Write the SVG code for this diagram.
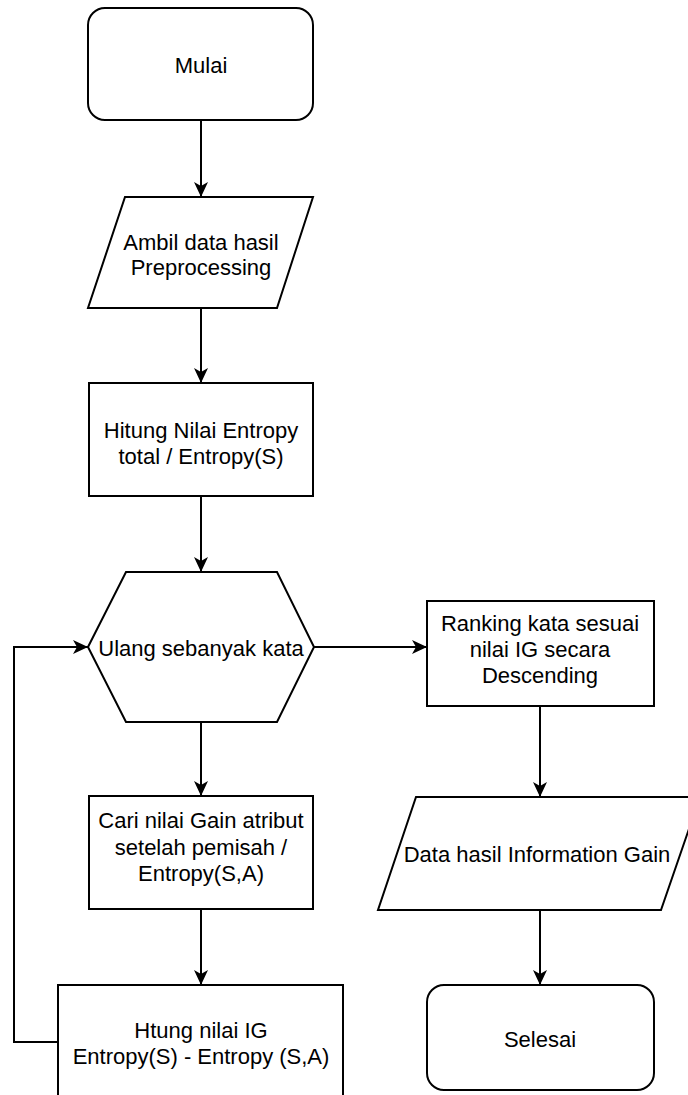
<svg xmlns="http://www.w3.org/2000/svg" width="688" height="1095" viewBox="0 0 688 1095">
<defs>
<marker id="ah" viewBox="0 0 15 14" refX="15" refY="7" markerWidth="15" markerHeight="14" markerUnits="userSpaceOnUse" orient="auto">
<path d="M0,0 L15,7 L0,14 L4,7 Z" fill="#000"/>
</marker>
<style>
.s{fill:#fff;stroke:#000;stroke-width:2}
.t{font-family:"Liberation Sans",Arial,sans-serif;font-size:22px;fill:#000;text-anchor:middle}
.c{fill:none;stroke:#000;stroke-width:2;marker-end:url(#ah)}
</style>
</defs>
<rect width="688" height="1095" fill="#fff"/>
<g id="connectors">
<path class="c" d="M201,120 L201,197"/>
<path class="c" d="M201,308 L201,383"/>
<path class="c" d="M201,496 L201,572"/>
<path class="c" d="M201,722 L201,796"/>
<path class="c" d="M201,909 L201,985"/>
<path class="c" d="M314,647 L427,647"/>
<path class="c" d="M540,706 L540,797"/>
<path class="c" d="M540,910 L540,985"/>
<path class="c" d="M58,1042 L14,1042 L14,647 L88,647"/>
</g>
<g id="mulai">
<rect class="s" x="88" y="8" width="225" height="112" rx="17"/>
<text class="t" x="201" y="73">Mulai</text>
</g>
<g id="ambil">
<polygon class="s" points="125,197 313,197 277,308 88,308"/>
<text class="t" x="201" y="250">Ambil data hasil</text>
<text class="t" x="201" y="275">Preprocessing</text>
</g>
<g id="hitung">
<rect class="s" x="89" y="383" width="224" height="113"/>
<text class="t" x="201" y="438">Hitung Nilai Entropy</text>
<text class="t" x="201" y="464">total / Entropy(S)</text>
</g>
<g id="ulang">
<polygon class="s" points="88,647 126,572 277,572 314,647 277,722 126,722"/>
<text class="t" x="201" y="656">Ulang sebanyak kata</text>
</g>
<g id="cari">
<rect class="s" x="89" y="796" width="224" height="113"/>
<text class="t" x="201" y="828">Cari nilai Gain atribut</text>
<text class="t" x="201" y="855">setelah pemisah /</text>
<text class="t" x="201" y="881">Entropy(S,A)</text>
</g>
<g id="htung">
<rect class="s" x="58" y="985" width="285" height="120"/>
<text class="t" x="201" y="1038">Htung nilai IG</text>
<text class="t" x="201" y="1064">Entropy(S) - Entropy (S,A)</text>
</g>
<g id="ranking">
<rect class="s" x="427" y="601" width="227" height="105"/>
<text class="t" x="540" y="631">Ranking kata sesuai</text>
<text class="t" x="540" y="657">nilai IG secara</text>
<text class="t" x="540" y="683">Descending</text>
</g>
<g id="datahasil">
<polygon class="s" points="416,797 700,797 661,910 378,910"/>
<text class="t" x="537" y="862">Data hasil Information Gain</text>
</g>
<g id="selesai">
<rect class="s" x="427" y="985" width="227" height="105" rx="17"/>
<text class="t" x="540" y="1047">Selesai</text>
</g>
</svg>
